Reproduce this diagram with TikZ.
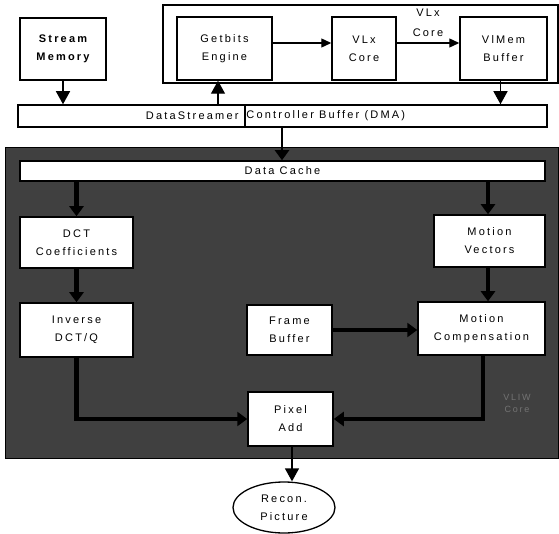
\documentclass[tikz,border=0pt]{standalone}
\usepackage{fontspec}
\setmainfont{Liberation Sans}
\newfontfamily\lbl[LetterSpace=20]{Liberation Sans}
\usetikzlibrary{arrows.meta,shapes.geometric}
\definecolor{darkarea}{RGB}{64,64,64}
\tikzset{
  blk/.style={draw=black, line width=1.5pt, fill=white, rectangle, align=center, inner sep=0pt,
    font=\lbl\fontsize{11}{18}\selectfont},
  bigtip/.style={-{Triangle[length=13pt,width=14pt]}},
  smalltip/.style={-{Triangle[length=10pt,width=9pt]}},
  conn/.style={draw=black, line width=1.3pt},
  thick conn/.style={draw=black, line width=4.5pt},
  thicktip/.style={-{Triangle[length=10pt,width=14pt]}},
  lbltext/.style={font=\lbl\fontsize{11}{20}\selectfont, inner sep=0pt, align=center}
}
\begin{document}
\begin{tikzpicture}[x=1pt,y=-1pt]
\useasboundingbox (0,0) rectangle (559,534);
% top part
\node[blk, minimum width=395, minimum height=78, fill=none] (vlx) at (360.5,44) {};
\node[blk, minimum width=86, minimum height=62, font=\lbl\bfseries\fontsize{11}{18}\selectfont] (stream) at (63,49) {Stream\\Memory};
\node[blk, minimum width=95, minimum height=63] (getbits) at (224.5,48.5) {Getbits\\Engine};
\node[blk, minimum width=64, minimum height=63] (vlxcore) at (364,48.5) {VLx\\Core};
\node[blk, minimum width=87, minimum height=63] (vlmem) at (503.5,48.5) {VlMem\\Buffer};
\node[lbltext] (vlxlabel) at (428,23) {VLx\\Core};
\node[blk, minimum width=227, minimum height=22] (dmaL) at (131.5,116) {};
\node[blk, minimum width=302, minimum height=22] (dmaR) at (396,116) {};
\node[lbltext, anchor=east] (dmaLt) at ([xshift=-7pt]dmaL.east) {DataStreamer};
\node[lbltext, anchor=west] (dmaRt) at ([xshift=2pt]dmaR.west) {Controller Buffer (DMA)};
\draw[conn, smalltip] ([yshift=5.5pt]getbits.east) -- ([yshift=5.5pt]vlxcore.west);
\draw[conn, smalltip] ([yshift=5.5pt]vlxcore.east) -- ([yshift=5.5pt]vlmem.west);
\draw[conn, bigtip] (stream.south) -- (stream.south |- dmaL.north);
\draw[conn, bigtip] ([xshift=-3pt]vlmem.south) -- ([xshift=-3pt]vlmem.south |- dmaR.north);
\draw[conn, bigtip] (218,105) coordinate (gbstart) -- (gbstart |- getbits.south);
% dark core area
\node[draw=black, line width=1pt, fill=darkarea, rectangle, minimum width=553, minimum height=310, inner sep=0pt] (core) at (281.5,303) {};
\node[blk, minimum width=525, minimum height=20] (cache) at (282.5,171) {Data Cache};
\draw[thick conn, line width=2pt, thicktip] (282,127) coordinate (cstart) -- (cstart |- cache.north);
\node[blk, minimum width=113, minimum height=51] (dct) at (76.5,242.5) {DCT\\Coefficients};
\node[blk, minimum width=113, minimum height=54] (inv) at (76.5,330) {Inverse\\DCT/Q};
\node[blk, minimum width=85, minimum height=50] (frame) at (289.5,330) {Frame\\Buffer};
\node[blk, minimum width=111, minimum height=52] (mv) at (489.5,241) {Motion\\Vectors};
\node[blk, minimum width=127, minimum height=53] (mc) at (481.5,328.5) {Motion\\Compensation};
\node[blk, minimum width=85, minimum height=54] (pix) at (290.5,419) {Pixel\\Add};
\node[draw=black, line width=1.3pt, fill=white, ellipse, minimum width=102, minimum height=51, inner sep=0pt, align=center, font=\lbl\fontsize{11}{18}\selectfont] (recon) at (284,507.5) {Recon.\\Picture};
\node[lbltext, text=black!55, font=\lbl\fontsize{9}{12}\selectfont] (corelbl) at (517,403) {VLIW\\Core};
% connectors in dark area
\draw[thick conn, thicktip] (dct.north |- cache.south) -- (dct.north);
\draw[thick conn, thicktip] (dct.south) -- (inv.north);
\draw[thick conn, thicktip] (488,181) coordinate (mvstart) -- (mvstart |- mv.north);
\draw[thick conn, thicktip] (mvstart |- mv.south) -- (mvstart |- mc.north);
\draw[thick conn, thicktip] (frame.east) -- (frame.east -| mc.west);
\draw[thick conn, thicktip] (inv.south) |- (pix.west);
\draw[thick conn, thicktip] (483,355) coordinate (mcout) |- (pix.east);
\draw[conn, bigtip] ([xshift=1.5pt]pix.south) -- ([xshift=1.5pt]pix.south |- recon.north);
\end{tikzpicture}
\end{document}
